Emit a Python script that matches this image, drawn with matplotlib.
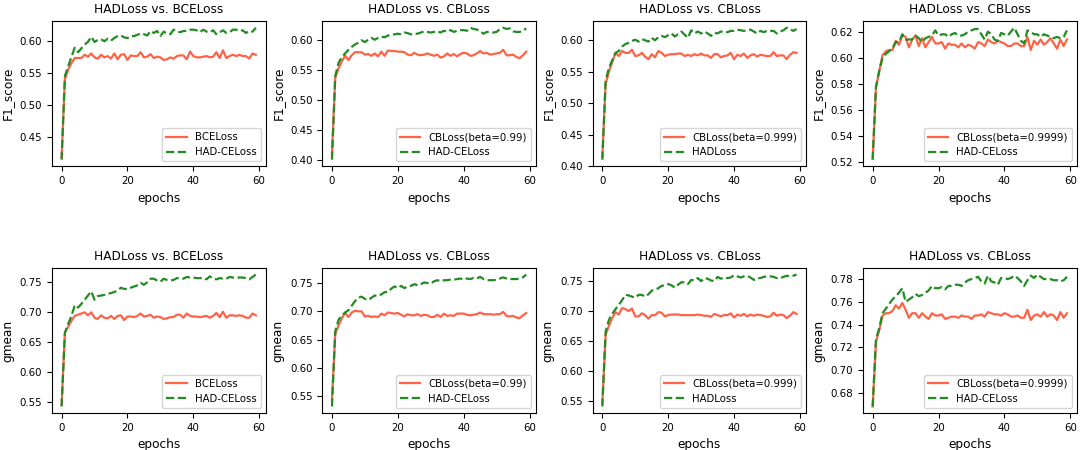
import matplotlib
matplotlib.use('Agg')
import matplotlib.pyplot as plt
import numpy as np

epochs = np.arange(60)

# F1_score, panel 1: BCELoss vs HAD-CELoss
f1_bce = [0.418, 0.540, 0.555, 0.565, 0.573, 0.573, 0.573, 0.578, 0.575, 0.580,
          0.574, 0.572, 0.578, 0.574, 0.576, 0.572, 0.580, 0.571, 0.578, 0.579,
          0.570, 0.577, 0.576, 0.576, 0.582, 0.574, 0.575, 0.579, 0.573, 0.575,
          0.574, 0.570, 0.571, 0.574, 0.572, 0.576, 0.577, 0.577, 0.571, 0.583,
          0.576, 0.574, 0.574, 0.575, 0.576, 0.574, 0.575, 0.582, 0.573, 0.585,
          0.573, 0.576, 0.578, 0.576, 0.578, 0.576, 0.576, 0.572, 0.580, 0.578]
f1_had_bce = [0.415, 0.545, 0.560, 0.575, 0.589, 0.582, 0.588, 0.594, 0.598, 0.606,
              0.598, 0.601, 0.602, 0.599, 0.603, 0.600, 0.604, 0.607, 0.608, 0.605,
              0.604, 0.607, 0.607, 0.609, 0.611, 0.610, 0.608, 0.615, 0.612, 0.615,
              0.607, 0.614, 0.611, 0.610, 0.617, 0.615, 0.613, 0.615, 0.615, 0.617,
              0.617, 0.616, 0.613, 0.617, 0.614, 0.613, 0.616, 0.610, 0.613, 0.616,
              0.612, 0.613, 0.617, 0.617, 0.615, 0.616, 0.612, 0.615, 0.614, 0.620]

# F1_score, panel 2: CBLoss(beta=0.99)
f1_cb99 = [0.410, 0.537, 0.553, 0.565, 0.574, 0.567, 0.575, 0.580, 0.580, 0.580,
           0.576, 0.577, 0.574, 0.578, 0.573, 0.581, 0.574, 0.583, 0.582, 0.582,
           0.581, 0.581, 0.580, 0.576, 0.575, 0.579, 0.576, 0.575, 0.576, 0.578,
           0.576, 0.574, 0.576, 0.571, 0.573, 0.578, 0.574, 0.577, 0.573, 0.577,
           0.579, 0.578, 0.574, 0.575, 0.578, 0.582, 0.578, 0.579, 0.576, 0.577,
           0.578, 0.579, 0.584, 0.575, 0.575, 0.576, 0.572, 0.570, 0.575, 0.581]
f1_had_cb99 = [0.400, 0.540, 0.562, 0.572, 0.578, 0.584, 0.589, 0.593, 0.596, 0.600,
               0.597, 0.601, 0.604, 0.601, 0.604, 0.606, 0.605, 0.608, 0.609, 0.610,
               0.611, 0.610, 0.613, 0.612, 0.610, 0.611, 0.611, 0.613, 0.615, 0.614,
               0.613, 0.614, 0.615, 0.613, 0.616, 0.614, 0.617, 0.614, 0.616, 0.617,
               0.617, 0.616, 0.621, 0.619, 0.618, 0.615, 0.611, 0.614, 0.614, 0.613,
               0.614, 0.619, 0.621, 0.619, 0.620, 0.615, 0.614, 0.614, 0.616, 0.620]

# F1_score, panel 3: CBLoss(beta=0.999) vs HADLoss
f1_cb999 = [0.415, 0.530, 0.550, 0.565, 0.580, 0.575, 0.583, 0.580, 0.580, 0.585,
            0.575, 0.576, 0.580, 0.574, 0.570, 0.578, 0.573, 0.583, 0.580, 0.575,
            0.577, 0.578, 0.578, 0.579, 0.579, 0.575, 0.577, 0.575, 0.578, 0.576,
            0.579, 0.576, 0.576, 0.572, 0.578, 0.578, 0.573, 0.575, 0.576, 0.580,
            0.570, 0.577, 0.575, 0.579, 0.572, 0.576, 0.578, 0.574, 0.577, 0.576,
            0.575, 0.575, 0.581, 0.575, 0.576, 0.576, 0.570, 0.577, 0.581, 0.580]
f1_had_cb999 = [0.410, 0.535, 0.556, 0.568, 0.580, 0.583, 0.590, 0.594, 0.596, 0.599,
                0.601, 0.598, 0.602, 0.600, 0.598, 0.604, 0.600, 0.605, 0.607, 0.605,
                0.608, 0.611, 0.606, 0.610, 0.614, 0.609, 0.604, 0.616, 0.611, 0.614,
                0.611, 0.614, 0.611, 0.607, 0.612, 0.611, 0.614, 0.613, 0.613, 0.615,
                0.615, 0.617, 0.616, 0.615, 0.616, 0.617, 0.614, 0.611, 0.615, 0.613,
                0.615, 0.615, 0.615, 0.611, 0.614, 0.616, 0.620, 0.618, 0.615, 0.618]

# F1_score, panel 4: CBLoss(beta=0.9999)
f1_cb9999 = [0.523, 0.577, 0.590, 0.602, 0.605, 0.606, 0.606, 0.613, 0.610, 0.617,
             0.616, 0.608, 0.614, 0.617, 0.609, 0.615, 0.608, 0.612, 0.616, 0.611,
             0.611, 0.612, 0.607, 0.611, 0.610, 0.610, 0.608, 0.611, 0.608, 0.610,
             0.609, 0.607, 0.612, 0.611, 0.609, 0.614, 0.612, 0.611, 0.613, 0.612,
             0.611, 0.609, 0.609, 0.611, 0.611, 0.609, 0.609, 0.616, 0.606, 0.613,
             0.610, 0.614, 0.610, 0.612, 0.615, 0.611, 0.607, 0.614, 0.609, 0.614]
f1_had_cb9999 = [0.522, 0.578, 0.590, 0.600, 0.603, 0.605, 0.607, 0.612, 0.612, 0.618,
                 0.614, 0.614, 0.614, 0.617, 0.615, 0.612, 0.615, 0.616, 0.617, 0.621,
                 0.617, 0.618, 0.618, 0.616, 0.618, 0.619, 0.617, 0.617, 0.618, 0.620,
                 0.621, 0.622, 0.622, 0.618, 0.614, 0.620, 0.618, 0.614, 0.613, 0.619,
                 0.618, 0.617, 0.620, 0.623, 0.618, 0.613, 0.611, 0.621, 0.620, 0.618,
                 0.618, 0.616, 0.618, 0.617, 0.616, 0.615, 0.616, 0.615, 0.616, 0.621]

# gmean, panel 5: BCELoss vs HAD-CELoss
gm_bce = [0.545, 0.665, 0.675, 0.685, 0.693, 0.695, 0.697, 0.699, 0.694, 0.699,
          0.690, 0.688, 0.694, 0.690, 0.689, 0.693, 0.688, 0.693, 0.694, 0.686,
          0.692, 0.692, 0.691, 0.693, 0.697, 0.692, 0.693, 0.695, 0.690, 0.692,
          0.691, 0.688, 0.689, 0.691, 0.691, 0.695, 0.695, 0.690, 0.697, 0.693,
          0.692, 0.692, 0.691, 0.692, 0.693, 0.690, 0.693, 0.698, 0.691, 0.700,
          0.690, 0.694, 0.694, 0.693, 0.694, 0.693, 0.690, 0.690, 0.697, 0.694]
gm_had_bce = [0.542, 0.665, 0.680, 0.693, 0.711, 0.707, 0.713, 0.720, 0.727, 0.734,
              0.720, 0.726, 0.727, 0.728, 0.730, 0.731, 0.733, 0.735, 0.740, 0.738,
              0.738, 0.740, 0.742, 0.744, 0.748, 0.745, 0.749, 0.755, 0.755, 0.752,
              0.750, 0.755, 0.753, 0.752, 0.753, 0.756, 0.756, 0.755, 0.758, 0.757,
              0.757, 0.756, 0.756, 0.756, 0.754, 0.759, 0.755, 0.754, 0.756, 0.755,
              0.755, 0.758, 0.757, 0.757, 0.757, 0.757, 0.756, 0.754, 0.758, 0.762]

# gmean, panel 6: CBLoss(beta=0.99)
gm_cb99 = [0.545, 0.660, 0.675, 0.688, 0.697, 0.690, 0.698, 0.701, 0.700, 0.700,
           0.691, 0.692, 0.690, 0.691, 0.690, 0.696, 0.693, 0.698, 0.697, 0.696,
           0.697, 0.694, 0.691, 0.695, 0.693, 0.693, 0.695, 0.692, 0.694, 0.693,
           0.690, 0.690, 0.694, 0.690, 0.696, 0.692, 0.693, 0.692, 0.696, 0.696,
           0.696, 0.694, 0.693, 0.694, 0.695, 0.698, 0.695, 0.695, 0.695, 0.694,
           0.695, 0.695, 0.699, 0.692, 0.691, 0.692, 0.689, 0.688, 0.693, 0.697]
gm_had_cb99 = [0.532, 0.665, 0.685, 0.693, 0.698, 0.702, 0.710, 0.718, 0.724, 0.726,
               0.722, 0.720, 0.724, 0.728, 0.727, 0.730, 0.734, 0.734, 0.740, 0.744,
               0.741, 0.745, 0.741, 0.744, 0.745, 0.748, 0.746, 0.748, 0.751, 0.750,
               0.749, 0.753, 0.755, 0.753, 0.755, 0.755, 0.756, 0.756, 0.757, 0.758,
               0.756, 0.758, 0.757, 0.759, 0.758, 0.761, 0.757, 0.755, 0.755, 0.755,
               0.756, 0.758, 0.760, 0.758, 0.757, 0.757, 0.757, 0.758, 0.760, 0.765]

# gmean, panel 7: CBLoss(beta=0.999) vs HADLoss
gm_cb999 = [0.545, 0.660, 0.675, 0.688, 0.698, 0.694, 0.705, 0.703, 0.700, 0.704,
            0.691, 0.691, 0.696, 0.693, 0.687, 0.693, 0.693, 0.698, 0.697, 0.691,
            0.693, 0.694, 0.694, 0.694, 0.693, 0.693, 0.693, 0.693, 0.693, 0.694,
            0.693, 0.692, 0.692, 0.690, 0.695, 0.693, 0.691, 0.693, 0.693, 0.696,
            0.689, 0.694, 0.692, 0.695, 0.691, 0.694, 0.692, 0.694, 0.693, 0.692,
            0.690, 0.691, 0.697, 0.692, 0.694, 0.693, 0.688, 0.692, 0.698, 0.695]
gm_had_cb999 = [0.540, 0.665, 0.685, 0.695, 0.703, 0.710, 0.718, 0.727, 0.726, 0.724,
                0.722, 0.727, 0.727, 0.724, 0.728, 0.734, 0.736, 0.738, 0.742, 0.743,
                0.745, 0.743, 0.739, 0.744, 0.748, 0.748, 0.745, 0.752, 0.751, 0.755,
                0.750, 0.755, 0.754, 0.751, 0.750, 0.757, 0.754, 0.756, 0.755, 0.756,
                0.760, 0.758, 0.756, 0.758, 0.759, 0.756, 0.752, 0.755, 0.755, 0.757,
                0.758, 0.758, 0.757, 0.755, 0.755, 0.757, 0.759, 0.758, 0.759, 0.761]

# gmean, panel 8: CBLoss(beta=0.9999)
gm_cb9999 = [0.668, 0.725, 0.735, 0.748, 0.750, 0.750, 0.752, 0.757, 0.754, 0.759,
             0.753, 0.746, 0.750, 0.750, 0.746, 0.750, 0.747, 0.745, 0.750, 0.748,
             0.748, 0.749, 0.745, 0.746, 0.747, 0.747, 0.746, 0.748, 0.747, 0.747,
             0.745, 0.748, 0.748, 0.749, 0.747, 0.751, 0.750, 0.749, 0.749, 0.748,
             0.750, 0.749, 0.747, 0.747, 0.748, 0.746, 0.746, 0.753, 0.744, 0.748,
             0.749, 0.747, 0.751, 0.747, 0.749, 0.748, 0.744, 0.751, 0.746, 0.750]
gm_had_cb9999 = [0.668, 0.727, 0.737, 0.750, 0.754, 0.758, 0.762, 0.765, 0.768, 0.772,
                 0.760, 0.762, 0.764, 0.767, 0.765, 0.766, 0.768, 0.770, 0.774, 0.772,
                 0.772, 0.773, 0.771, 0.774, 0.774, 0.775, 0.775, 0.774, 0.777, 0.779,
                 0.780, 0.781, 0.782, 0.778, 0.776, 0.783, 0.778, 0.777, 0.775, 0.781,
                 0.781, 0.780, 0.781, 0.783, 0.781, 0.778, 0.774, 0.779, 0.783, 0.781,
                 0.784, 0.782, 0.780, 0.780, 0.780, 0.779, 0.779, 0.778, 0.779, 0.782]

titles = ["HADLoss vs. BCELoss", "HADLoss vs. CBLoss",
          "HADLoss vs. CBLoss", "HADLoss vs. CBLoss"]
base_labels = ["BCELoss", "CBLoss(beta=0.99)",
               "CBLoss(beta=0.999)", "CBLoss(beta=0.9999)"]
had_labels = ["HAD-CELoss", "HAD-CELoss", "HADLoss", "HAD-CELoss"]

f1_base = [f1_bce, f1_cb99, f1_cb999, f1_cb9999]
f1_had = [f1_had_bce, f1_had_cb99, f1_had_cb999, f1_had_cb9999]
gm_base = [gm_bce, gm_cb99, gm_cb999, gm_cb9999]
gm_had = [gm_had_bce, gm_had_cb99, gm_had_cb999, gm_had_cb9999]

fig, axes = plt.subplots(2, 4, figsize=(10.81, 4.5), dpi=100)

rows = [(f1_base, f1_had, "F1_score"), (gm_base, gm_had, "gmean")]
for r, (base, had, ylab) in enumerate(rows):
    for c in range(4):
        ax = axes[r, c]
        ax.plot(epochs, base[c], color='tomato', lw=1.6, label=base_labels[c])
        ax.plot(epochs, had[c], color='forestgreen', lw=1.6, ls='--',
                label=had_labels[c])
        ax.set_title(titles[c], fontsize=8.7)
        ax.set_xlabel("epochs", fontsize=8.7)
        ax.set_ylabel(ylab, fontsize=8.7)
        ax.tick_params(labelsize=7.4)
        ax.legend(loc='lower right', fontsize=7.3)

plt.subplots_adjust(left=0.048, right=0.996, top=0.953, bottom=0.082,
                    wspace=0.265, hspace=0.70)
plt.savefig('out.png')
